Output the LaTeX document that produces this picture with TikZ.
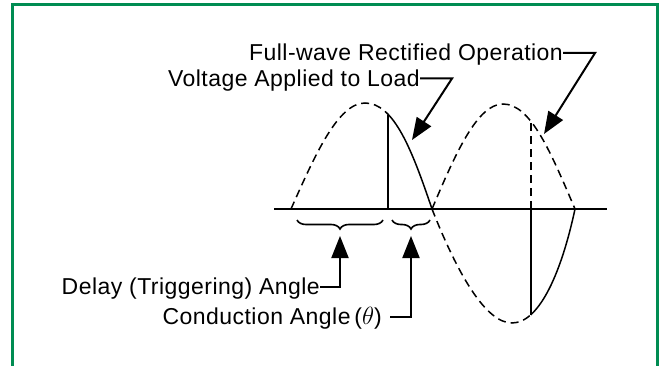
\documentclass[tikz,border=0pt]{standalone}
\usepackage{fontspec}
\setmainfont{Liberation Sans}[LetterSpace=2]
\usetikzlibrary{arrows.meta,decorations.pathreplacing}
\definecolor{framegreen}{RGB}{0,140,82}
\begin{document}
\begin{tikzpicture}[x=1pt,y=-1pt,
  frame/.style={draw=framegreen,line width=3pt},
  axisline/.style={line width=2pt},
  wave/.style={line width=1.5pt},
  dashwave/.style={line width=1.5pt,dash pattern=on 8pt off 5pt},
  lead/.style={line width=2pt,-{Triangle[length=22pt,width=17pt]}},
  lab/.style={inner sep=0pt,font=\fontsize{23}{25}\selectfont},
  bracestyle/.style={line width=1.6pt,decorate,decoration={brace,mirror,amplitude=9pt}}]
\useasboundingbox (0,0) rectangle (660,366);
\fill[white] (0,0) rectangle (660,366);
% frame
\draw[frame] (12.5,370) -- (12.5,4.7) -- (657,4.7) -- (657,370);
% axis
\draw[axisline] (274,209) -- (607,209);
% first positive half wave
\begin{scope}
\clip (0,0) rectangle (388,366);
\draw[dashwave] (291,209) .. controls (315.7,153.3) and (338.4,103) .. (365,103)
  .. controls (394,103) and (412,150) .. (432,209);
\end{scope}
\begin{scope}
\clip (388,0) rectangle (660,366);
\draw[wave] (291,209) .. controls (315.7,153.3) and (338.4,103) .. (365,103)
  .. controls (394,103) and (412,150) .. (432,209);
\end{scope}
\draw[wave] (388,209) -- (388,114.7);
% second positive (rectified) half wave
\draw[dashwave] (432,209) .. controls (455.7,153) and (477.4,104) .. (503,104)
  .. controls (531,104) and (551,153) .. (575,209);
\draw[dashwave] (531,209) -- (531,120);
% negative half wave
\begin{scope}
\clip (0,0) rectangle (531,366);
\draw[dashwave] (432,209) .. controls (458,275) and (486,323) .. (512,323)
  .. controls (540,323) and (562,270) .. (575,209);
\end{scope}
\begin{scope}
\clip (531,0) rectangle (660,366);
\draw[wave] (432,209) .. controls (458,275) and (486,323) .. (512,323)
  .. controls (540,323) and (562,270) .. (575,209);
\end{scope}
\draw[wave] (531,209) -- (531,315);
% braces
\draw[bracestyle] (297,220) -- (383,220);
\draw[bracestyle] (392,220) -- (430,220);
% labels
\node[lab,anchor=base east] (fw) at (563,61) {Full-wave Rectified Operation};
\node[lab,anchor=base east] (vl) at (420,86.5) {Voltage Applied to Load};
\node[lab,anchor=base east] (dl) at (320,294.5) {Delay (Triggering) Angle};
\node[lab,anchor=base east] (cd) at (382,324.5) {Conduction Angle\,($\theta$)};
% leader corners and tips
\coordinate (fwc) at (595,53);
\coordinate (fwt) at (544,134);
\coordinate (vlc) at (452,78.5);
\coordinate (vlt) at (412,140);
\coordinate (dlt) at (340,236);
\coordinate (cdt) at (411,236);
\draw[lead] ([yshift=8pt]fw.base east) -- (fwc) -- (fwt);
\draw[lead] ([yshift=8pt]vl.base east) -- (vlc) -- (vlt);
\draw[lead] ([yshift=8pt]dl.base east) -| (dlt);
\draw[lead] ([xshift=8pt,yshift=8pt]cd.base east) -| (cdt);
\end{tikzpicture}
\end{document}
